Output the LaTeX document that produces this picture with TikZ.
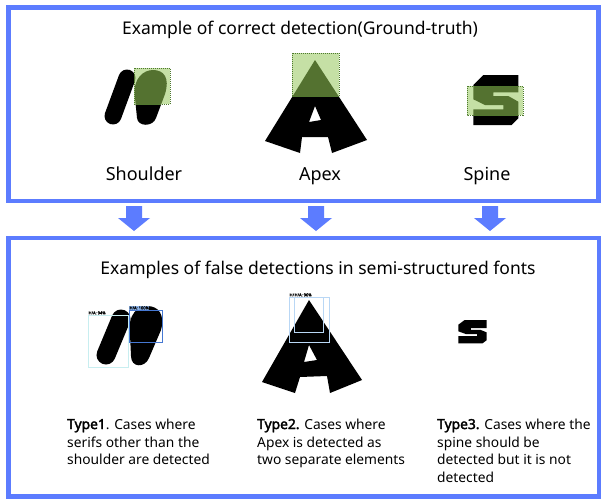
\documentclass[tikz,border=0pt]{standalone}
\usepackage{fontspec}
\setmainfont{Noto Sans}[BoldFont={Noto Sans}, BoldFeatures={FakeBold=2.5}]
\definecolor{frameblue}{RGB}{92,124,255}
\definecolor{lightgreen}{RGB}{197,224,165}
\definecolor{darkgreen}{RGB}{84,114,48}
\definecolor{dotgreen}{RGB}{78,122,46}
\definecolor{detcyan}{RGB}{200,238,240}
\definecolor{detblue}{RGB}{70,120,210}
\definecolor{detlabel}{RGB}{140,180,235}
\definecolor{detpale}{RGB}{185,215,245}
\tikzset{
  frame/.style={draw=frameblue, line width=4.5pt},
  gtbox/.style={fill=lightgreen},
  gtborder/.style={draw=dotgreen, densely dotted, line width=1pt},
  titletext/.style={font=\fontsize{17.5}{20}\selectfont, inner sep=0pt, anchor=base},
  parttext/.style={font=\fontsize{18}{21}\selectfont, inner sep=0pt, anchor=base},
  typetext/.style={font=\fontsize{13.8}{17}\selectfont, inner sep=0pt, anchor=base west},
  tinylabel/.style={font=\fontsize{4}{4}\selectfont\bfseries, inner sep=0.4pt, anchor=south west},
  downarrow/.pic={\fill[frameblue] (-8,-12) -- (8,-12) -- (8,0) -- (16,0) -- (0,13) -- (-16,0) -- (-8,0) -- cycle;}
}
\newcommand\glyphNtop{%
  \draw[line width=17pt, line cap=round] (113,116) -- (127,78);
  \fill (135,98) .. controls (132,78) and (144,70) .. (153,70) .. controls (164,70) and (170,78) .. (165,94)
    -- (156,118) .. controls (153,127) and (138,127) .. (137,118) -- cycle;}
\newcommand\glyphAtop{%
  \fill[even odd rule] (315,60) -- (367,140) -- (332,153) -- (328,137) -- (302,137) -- (300,153) -- (265,141) -- cycle
    (315,106) -- (309,122) -- (321,120) -- cycle;}
\newcommand\glyphStop{%
  \fill (483.3,75) -- (518.3,75) -- (518.3,92.3) -- (493.3,92.3) -- (493.3,96) -- (508.3,96) -- (518.3,101.7)
    -- (518.3,118.3) -- (511.7,125) -- (473.3,125) -- (473.3,109.3) -- (503.3,109.3) -- (503.3,105)
    -- (485,105) -- (473.3,99.3) -- (473.3,85) -- cycle;}
\begin{document}
\begin{tikzpicture}[x=1pt,y=-1pt]
\useasboundingbox (0,0) rectangle (601,498);
\fill[white] (0,0) rectangle (601,498);
% frames
\draw[frame] (8.5,7.5) rectangle (598.5,201);
\draw[frame] (8.5,238) rectangle (599,496.5);
% arrows
\pic at (134,218) {downarrow};
\pic at (316,218) {downarrow};
\pic at (490,218) {downarrow};
% top title
\node[titletext] (t1) at (300,34) {Example of correct detection(Ground-truth)};
% shoulder top
\begin{scope}[color=black]\glyphNtop\end{scope}
\path[gtbox] (134,68) rectangle (170,104);
\begin{scope}
  \clip (134,68) rectangle (170,104);
  \begin{scope}[color=darkgreen]\glyphNtop\end{scope}
\end{scope}
\path[gtborder] (134,68) rectangle (170,104);
% apex top
\begin{scope}[color=black]\glyphAtop\end{scope}
\path[gtbox] (292,53) rectangle (339,96);
\begin{scope}
  \clip (292,53) rectangle (339,96);
  \begin{scope}[color=darkgreen]\glyphAtop\end{scope}
\end{scope}
\path[gtborder] (292,53) rectangle (339,96);
% spine top
\begin{scope}[color=black]\glyphStop\end{scope}
\path[gtbox] (467,86) rectangle (523,115);
\begin{scope}
  \clip (467,86) rectangle (523,115);
  \begin{scope}[color=darkgreen]\glyphStop\end{scope}
\end{scope}
\path[gtborder] (467,86) rectangle (523,115);
% part labels
\node[parttext] (l1) at (144,180) {Shoulder};
\node[parttext] (l2) at (320,180) {Apex};
\node[parttext] (l3) at (487,180) {Spine};
% bottom title
\node[titletext] (t2) at (318,274) {Examples of false detections in semi-structured fonts};
% bottom n
\draw[line width=19pt, line cap=round] (106,355) -- (121,319);
\fill (130,335) .. controls (127,313) and (139,306) .. (147,306) .. controls (159,306) and (165,315) .. (161,330)
  -- (149,358) .. controls (145,368) and (131,368) .. (131,356) -- cycle;
\draw[detcyan, line width=0.7pt] (88,315) rectangle (128,367);
\node[tinylabel] (h1) at (88,315) {H/A: 94\%};
\draw[detblue, line width=0.9pt] (129,310) rectangle (162,342);
\node[tinylabel, fill=detlabel] (h2) at (129,310) {H/A: 100\%};
% bottom A
\fill[even odd rule] (309,300) -- (362,380) -- (330,393) -- (327,376) -- (300,377) -- (295,393) -- (262,382) -- cycle
  (309,345) -- (304,362) -- (317,360) -- cycle;
\draw[detpale, line width=0.8pt] (289,297) rectangle (329,342);
\draw[detpale, line width=0.8pt] (294,297) rectangle (323,332);
\node[tinylabel] (h3) at (289,297) {H/};
\node[tinylabel, fill=white] (h4) at (294,297) {H/A: 96\%};
% bottom S
\fill (464.6,320) -- (486.7,320) -- (486.7,328.1) -- (470.9,328.1) -- (470.9,329.8) -- (480.4,329.8) -- (486.7,332.4)
  -- (486.7,340.2) -- (482.5,343.3) -- (458.3,343.3) -- (458.3,336) -- (477.2,336) -- (477.2,334)
  -- (465.7,334) -- (458.3,331.3) -- (458.3,324.7) -- cycle;
% type texts
\node[typetext] (a1) at (67,429) {\textbf{Type1}. Cases where};
\node[typetext] (a2) at (67,447) {serifs other than the};
\node[typetext] (a3) at (67,464.5) {shoulder are detected};
\node[typetext] (b1) at (257,429) {\textbf{Type2.} Cases where};
\node[typetext] (b2) at (257,447) {Apex is detected as};
\node[typetext] (b3) at (257,464.5) {two separate elements};
\node[typetext] (c1) at (437,429) {\textbf{Type3.} Cases where the};
\node[typetext] (c2) at (437,447) {spine should be};
\node[typetext] (c3) at (437,464.5) {detected but it is not};
\node[typetext] (c4) at (437,482) {detected};
\end{tikzpicture}
\end{document}
